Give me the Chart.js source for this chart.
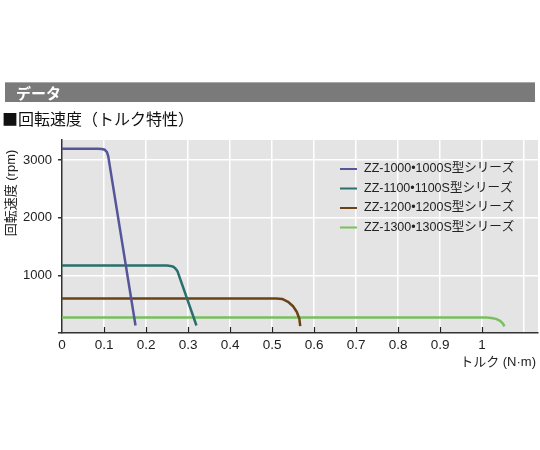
<!DOCTYPE html>
<html>
<head>
<meta charset="utf-8">
<script src="https://cdn.jsdelivr.net/npm/chart.js@4.4.1/dist/chart.umd.min.js"></script>
<style>
  body { margin: 0; background: #fff; font-family: 'Liberation Sans', 'Noto Sans CJK JP', sans-serif; }
  #wrap { position: relative; width: 540px; height: 450px; }
  #chart { position: absolute; left: 0; top: 0; }
  .banner { position: absolute; left: 5px; top: 82px; width: 530px; height: 20px;
    background: #7a7a7a; border-top: 1px solid #a8a8a8; color: #fff;
    font: bold 15px 'Noto Sans CJK JP', sans-serif; line-height: 20px; padding-left: 11px; box-sizing: border-box; }
  .title { position: absolute; left: 2px; top: 106px; font: 16px 'Noto Sans CJK JP', sans-serif; color: #111; }
</style>
</head>
<body>
<div id="wrap">
  <canvas id="chart" width="540" height="450"></canvas>
  <div class="banner">データ</div>
  <div class="title">■回転速度（トルク特性）</div>
</div>
<script>
const seriesNames = ['ZZ-1000•1000S型シリーズ', 'ZZ-1100•1100S型シリーズ', 'ZZ-1200•1200S型シリーズ', 'ZZ-1300•1300S型シリーズ'];
const seriesColors = ['#55559a', '#2a6f6c', '#6b4218', '#78c05c'];

// torque (N·m) / speed (rpm), corners included
const torque1000 = [0, 0.085, 0.095, 0.102, 0.107, 0.11, 0.175];
const speed1000 = [3200, 3200, 3195, 3180, 3140, 3070, 130];
const torque1100 = [0, 0.25, 0.258, 0.265, 0.27, 0.275, 0.32];
const speed1100 = [1170, 1170, 1165, 1150, 1120, 1070, 130];
const torque1200 = [0, 0.51, 0.524, 0.538, 0.55, 0.559, 0.565, 0.567];
const speed1200 = [600, 600, 591, 542, 465, 365, 247, 120];
const torque1300 = [0, 1.01, 1.022, 1.033, 1.043, 1.05, 1.053];
const speed1300 = [270, 270, 262, 245, 210, 160, 115];

const xTicks = [0, 0.1, 0.2, 0.3, 0.4, 0.5, 0.6, 0.7, 0.8, 0.9, 1];
const yTicks = [1000, 2000, 3000];

const toPoints = (xs, ys) => xs.map((x, i) => ({ x: x, y: ys[i] }));
const allX = [torque1000, torque1100, torque1200, torque1300];
const allY = [speed1000, speed1100, speed1200, speed1300];

const font = "'Liberation Sans', 'Noto Sans CJK JP', sans-serif";

const extras = {
  id: 'extras',
  beforeDraw(chart) {
    const a = chart.chartArea, c = chart.ctx;
    c.save();
    c.fillStyle = '#e4e4e4';
    c.fillRect(a.left, a.top, a.right - a.left, a.bottom - a.top);
    c.restore();
  },
  afterDraw(chart) {
    const c = chart.ctx, x = chart.scales.x;
    c.save();
    // inward x ticks
    c.strokeStyle = '#222';
    c.lineWidth = 1.2;
    xTicks.forEach(v => {
      if (v === 0) return;
      const px = Math.round(x.getPixelForValue(v)) + 0.5;
      c.beginPath();
      c.moveTo(px, chart.chartArea.bottom - 6);
      c.lineTo(px, chart.chartArea.bottom);
      c.stroke();
    });
    // legend
    c.font = '12.5px ' + font;
    c.textBaseline = 'middle';
    seriesNames.forEach((name, i) => {
      const y = 169 + i * 19.5;
      c.strokeStyle = seriesColors[i];
      c.lineWidth = 2;
      c.beginPath();
      c.moveTo(340, y);
      c.lineTo(357, y);
      c.stroke();
      c.fillStyle = '#222';
      c.fillText(name, 364, y);
    });
    // axis titles
    c.font = '13px ' + font;
    c.textAlign = 'right';
    c.fillText('トルク (N·m)', 536, 362);
    c.translate(11, 193);
    c.rotate(-Math.PI / 2);
    c.textAlign = 'center';
    c.fillText('回転速度 (rpm)', 0, 0);
    c.restore();
  }
};

new Chart(document.getElementById('chart'), {
  type: 'scatter',
  data: {
    datasets: seriesNames.map((name, i) => ({
      label: name,
      data: toPoints(allX[i], allY[i]),
      showLine: true,
      borderColor: seriesColors[i],
      borderWidth: 2.5,
      borderJoinStyle: 'round',
      pointRadius: 0,
      tension: 0
    }))
  },
  options: {
    responsive: false,
    animation: false,
    layout: { padding: { top: 140, right: 2, bottom: 87, left: 0 } },
    plugins: { legend: { display: false }, tooltip: { enabled: false } },
    scales: {
      x: {
        type: 'linear', min: 0, max: 1.133,
        afterFit: s => { s.height = 30; },
        afterBuildTicks: s => { s.ticks = xTicks.concat([1.1]).map(v => ({ value: v })); },
        border: { color: '#333', width: 1.5 },
        grid: { color: ctx => ctx.tick && ctx.tick.value === 0 ? 'rgba(0,0,0,0)' : '#fff', lineWidth: 1.5, drawTicks: false },
        ticks: {
          padding: 4, color: '#222', font: { family: font, size: 13.5 }, maxRotation: 0, autoSkip: false,
          callback: v => v > 1.05 ? '' : String(Math.round(v * 10) / 10)
        }
      },
      y: {
        type: 'linear', min: 0, max: 3350,
        afterFit: s => { s.width = 62; },
        afterBuildTicks: s => { s.ticks = [0].concat(yTicks).map(v => ({ value: v })); },
        border: { color: '#333', width: 1.5 },
        grid: { color: ctx => ctx.tick && ctx.tick.value === 0 ? 'rgba(0,0,0,0)' : '#fff', lineWidth: 1.5, tickLength: 4, tickColor: '#333' },
        ticks: {
          padding: 6, color: '#222', font: { family: font, size: 13 },
          callback: v => v === 0 ? '' : String(v)
        }
      }
    }
  },
  plugins: [extras]
});
</script>
</body>
</html>
